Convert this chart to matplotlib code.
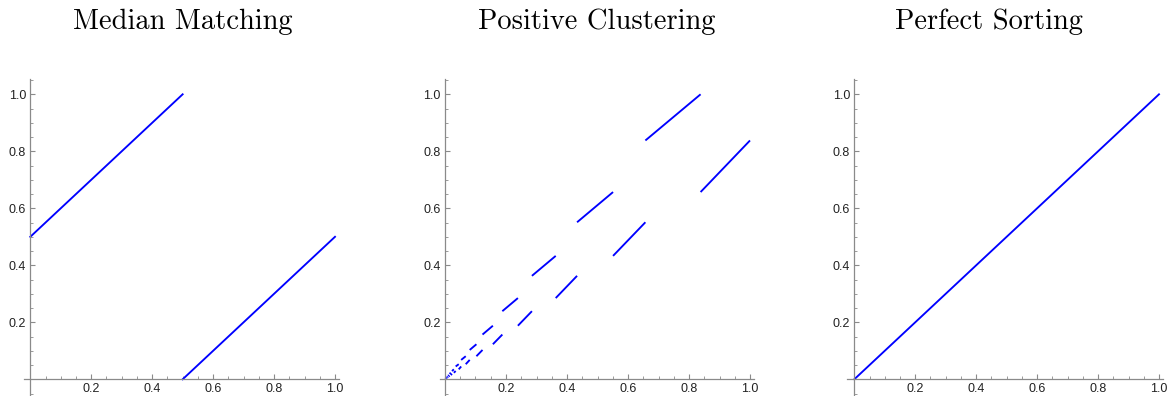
import numpy as np
import matplotlib
matplotlib.use("Agg")
import matplotlib.pyplot as plt
from matplotlib.ticker import MultipleLocator

# panel titles
titles = ["Median Matching", "Positive Clustering", "Perfect Sorting"]

# median matching: two parallel segments
mm_x1 = [0.0, 0.5]
mm_y1 = [0.5, 1.0]
mm_x2 = [0.5, 1.0]
mm_y2 = [0.0, 0.5]

# positive clustering: breakpoints (1.0 down to ~0)
pc_pts = [1.0, 0.838, 0.657, 0.551, 0.433, 0.363, 0.285, 0.239, 0.188,
          0.157, 0.123, 0.103, 0.081, 0.068, 0.053, 0.045, 0.035, 0.029,
          0.023, 0.019, 0.015, 0.0126, 0.0099, 0.0083, 0.0065, 0.0055,
          0.0043, 0.0036, 0.0028, 0.0024, 0.0]

# perfect sorting: diagonal
ps_x = [0.0, 1.0]
ps_y = [0.0, 1.0]

tick_labels = ["0.2", "0.4", "0.6", "0.8", "1.0"]
tick_vals = [0.2, 0.4, 0.6, 0.8, 1.0]

W, H = 1170, 396
fig = plt.figure(figsize=(W / 100, H / 100), dpi=100)

# (x pixel of data 0, x pixel of data 1, xlim left)
panels = [(30.3, 335.0, -0.02), (445.0, 750.0, -0.017), (854.3, 1159.0, -0.024)]
title_x = [183, 597, 989]
y0_px, y1_px = 379.3, 94.3
ylim = (-0.06, 1.055)
xlim_right = 1.012

axes = []
for (x0, x1, xl), tx, t in zip(panels, title_x, titles):
    sx = x1 - x0
    sy = y0_px - y1_px
    left = x0 + xl * sx
    right = x0 + xlim_right * sx
    bottom = y0_px - ylim[0] * sy
    top = y0_px - ylim[1] * sy
    ax = fig.add_axes([left / W, 1 - bottom / H, (right - left) / W, (bottom - top) / H])
    ax.set_xlim(xl, xlim_right)
    ax.set_ylim(*ylim)
    for s in ["top", "right"]:
        ax.spines[s].set_visible(False)
    for s in ["left", "bottom"]:
        ax.spines[s].set_position(("data", 0))
        ax.spines[s].set_color("#8a8a8a")
        ax.spines[s].set_linewidth(0.9)
    ax.set_xticks(tick_vals)
    ax.set_xticklabels(tick_labels, family="Liberation Sans")
    ax.set_yticks(tick_vals)
    ax.set_yticklabels(tick_labels, family="Liberation Sans")
    ax.xaxis.set_minor_locator(MultipleLocator(0.05))
    ax.yaxis.set_minor_locator(MultipleLocator(0.05))
    ax.tick_params(which="major", direction="in", length=3.5, width=0.8,
                   color="#8a8a8a", labelsize=9, labelcolor="#222222", pad=3)
    ax.tick_params(which="minor", direction="in", length=2, width=0.6, color="#8a8a8a")
    ax.patch.set_alpha(0)
    fig.text(tx / W, 1 - 29 / H, t, ha="center", va="baseline",
             fontsize=20.5, family="cmr10")
    axes.append(ax)

blue = (0, 0, 1)
lw = 1.35

axes[0].plot(mm_x1, mm_y1, color=blue, lw=lw)
axes[0].plot(mm_x2, mm_y2, color=blue, lw=lw)

# upper and lower pieces of the step pattern
for i in range(0, len(pc_pts) - 2, 2):
    a, b, c = pc_pts[i], pc_pts[i + 1], pc_pts[i + 2]
    axes[1].plot([c, b], [b, a], color=blue, lw=lw, solid_capstyle="butt")
    axes[1].plot([b, a], [c, b], color=blue, lw=lw, solid_capstyle="butt")

axes[2].plot(ps_x, ps_y, color=blue, lw=lw)

fig.savefig("out.png", dpi=100)
